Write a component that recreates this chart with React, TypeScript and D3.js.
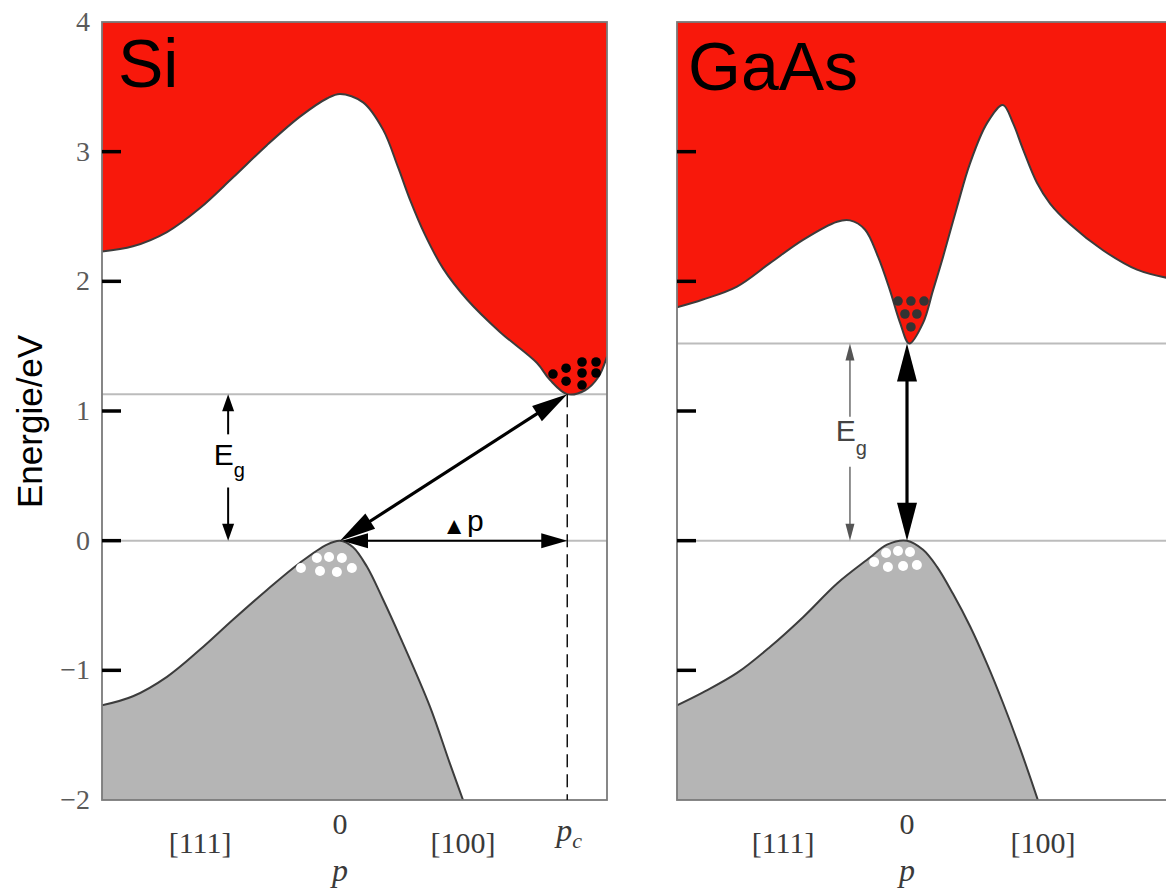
import React, { useEffect, useRef } from 'react';
import * as d3 from 'd3';

type Pt = [number, number];

// momentum p (left panel edge = -1, Gamma = 0) vs. energy in eV
const siConduction: Pt[] = [
  [-1, 2.23], [-0.87, 2.27], [-0.727, 2.38], [-0.588, 2.565], [-0.45, 2.8], [-0.307, 3.05],
  [-0.168, 3.27], [-0.055, 3.41], [0, 3.445], [0.097, 3.38], [0.181, 3.17], [0.244, 2.88],
  [0.294, 2.63], [0.357, 2.36], [0.433, 2.1], [0.534, 1.86], [0.672, 1.61], [0.828, 1.37],
  [0.882, 1.24], [0.955, 1.13], [1.03, 1.16], [1.085, 1.26], [1.122, 1.42],
];
const siValence: Pt[] = [
  [-1, -1.27], [-0.87, -1.2], [-0.727, -1.05], [-0.588, -0.84], [-0.45, -0.61], [-0.307, -0.38],
  [-0.168, -0.17], [-0.055, -0.03], [0, 0], [0.055, -0.05], [0.113, -0.2], [0.18, -0.45],
  [0.252, -0.74], [0.378, -1.28], [0.462, -1.72], [0.517, -2.0], [0.6, -2.44],
];
const gaasConduction: Pt[] = [
  [-1, 1.8], [-0.887, 1.86], [-0.739, 1.96], [-0.596, 2.14], [-0.452, 2.32], [-0.304, 2.46],
  [-0.248, 2.47], [-0.183, 2.4], [-0.126, 2.19], [-0.074, 1.93], [-0.03, 1.68], [0.01, 1.52],
  [0.07, 1.68], [0.113, 1.93], [0.157, 2.19], [0.217, 2.57], [0.274, 2.91], [0.348, 3.22],
  [0.417, 3.36], [0.461, 3.22], [0.504, 3.02], [0.565, 2.76], [0.622, 2.6], [0.709, 2.44],
  [0.852, 2.24], [1.0, 2.09], [1.15, 2.02],
];
const gaasValence: Pt[] = [
  [-1, -1.27], [-0.887, -1.17], [-0.739, -1.02], [-0.596, -0.82], [-0.452, -0.59], [-0.304, -0.33],
  [-0.161, -0.13], [-0.087, -0.03], [0, 0], [0.07, -0.07], [0.13, -0.2], [0.2, -0.41],
  [0.274, -0.66], [0.348, -0.95], [0.417, -1.25], [0.491, -1.6], [0.565, -1.98], [0.65, -2.45],
];

const siElectrons: Pt[] = [
  [0.895, 1.285], [0.95, 1.33], [0.95, 1.23], [1.017, 1.378], [1.076, 1.378],
  [1.017, 1.293], [1.076, 1.293], [1.017, 1.2],
];
const siHoles: Pt[] = [
  [-0.097, -0.134], [-0.046, -0.126], [0.008, -0.134], [-0.164, -0.211], [-0.084, -0.234],
  [-0.013, -0.242], [0.05, -0.211],
];
const gaasElectrons: Pt[] = [
  [-0.039, 1.848], [0.017, 1.848], [0.074, 1.848], [-0.009, 1.748], [0.043, 1.748], [0.017, 1.648],
];
const gaasHoles: Pt[] = [
  [-0.091, -0.095], [-0.039, -0.08], [0.013, -0.087], [-0.143, -0.165], [-0.083, -0.203],
  [-0.017, -0.195], [0.043, -0.188],
];

const energyTicks = [-2, -1, 0, 1, 2, 3, 4];
const innerTicks = [-1, 0, 1, 2, 3];

const siGap = 1.13;
const siPc = 0.955;
const gaasGap = 1.52;

const siAxisLabels = [
  { p: -0.588, text: '[111]' },
  { p: 0, text: '0' },
  { p: 0.517, text: '[100]' },
];
const gaasAxisLabels = [
  { p: -0.539, text: '[111]' },
  { p: 0, text: '0' },
  { p: 0.591, text: '[100]' },
];

const RED = '#f8180b';
const GREY = '#b5b5b5';
const SANS = '"Liberation Sans", Arial, sans-serif';
const SERIF = '"Liberation Serif", "Times New Roman", serif';

type G = d3.Selection<SVGGElement, unknown, null, undefined>;

function arrow(
  g: G, a: Pt, b: Pt,
  o: { w: number; L: number; hw: number; color: string; both: boolean }
) {
  const dx = b[0] - a[0], dy = b[1] - a[1];
  const len = Math.hypot(dx, dy);
  const ux = dx / len, uy = dy / len, nx = -uy, ny = ux;
  const head = (tx: number, ty: number, sx: number, sy: number) => {
    const bx = tx - sx * o.L, by = ty - sy * o.L;
    g.append('polygon')
      .attr('points', `${tx},${ty} ${bx + nx * o.hw},${by + ny * o.hw} ${bx - nx * o.hw},${by - ny * o.hw}`)
      .attr('fill', o.color);
  };
  const s = o.both ? o.L * 0.7 : 0;
  g.append('line')
    .attr('x1', a[0] + ux * s).attr('y1', a[1] + uy * s)
    .attr('x2', b[0] - ux * o.L * 0.7).attr('y2', b[1] - uy * o.L * 0.7)
    .attr('stroke', o.color).attr('stroke-width', o.w);
  head(b[0], b[1], ux, uy);
  if (o.both) head(a[0], a[1], -ux, -uy);
}

export default function App() {
  const svgRef = useRef<SVGSVGElement>(null);

  useEffect(() => {
    if (!svgRef.current) return;
    const svg = d3.select(svgRef.current);
    svg.selectAll('*').remove();
    const defs = svg.append('defs');

    const y = d3.scaleLinear().domain([-2, 4]).range([800, 22]);
    const curve = d3.curveCatmullRom.alpha(0.5);

    const drawPanel = (cfg: {
      id: string; range: [number, number]; domain: [number, number];
      cb: Pt[]; vb: Pt[]; gap: number; electrons: Pt[]; electronColor: string; holes: Pt[];
      labels: { p: number; text: string }[]; title: string; titlePos: Pt;
    }) => {
      const x = d3.scaleLinear().domain(cfg.domain).range(cfg.range);
      const [x0, x1] = cfg.range;
      const g = svg.append('g');

      defs.append('clipPath').attr('id', `clip-${cfg.id}`)
        .append('rect')
        .attr('x', x0).attr('y', y(4))
        .attr('width', x1 - x0).attr('height', y(-2) - y(4));
      const inner = g.append('g').attr('clip-path', `url(#clip-${cfg.id})`);

      const line = d3.line<Pt>().x(d => x(d[0])).y(d => y(d[1])).curve(curve);
      const upper = d3.area<Pt>().x(d => x(d[0])).y0(y(4)).y1(d => y(d[1])).curve(curve);
      const lower = d3.area<Pt>().x(d => x(d[0])).y0(y(-2)).y1(d => y(d[1])).curve(curve);

      // reference levels
      [0, cfg.gap].forEach(e => {
        inner.append('line')
          .attr('x1', x0).attr('x2', x1).attr('y1', y(e)).attr('y2', y(e))
          .attr('stroke', '#bcbcbc').attr('stroke-width', 2);
      });

      inner.append('path').datum(cfg.cb).attr('fill', RED).attr('d', upper);
      inner.append('path').datum(cfg.vb).attr('fill', GREY).attr('d', lower);
      [cfg.cb, cfg.vb].forEach(d => {
        inner.append('path').datum(d)
          .attr('fill', 'none').attr('stroke', '#3c3c3c').attr('stroke-width', 2).attr('d', line);
      });

      inner.selectAll('circle.e').data(cfg.electrons).enter().append('circle')
        .attr('cx', d => x(d[0])).attr('cy', d => y(d[1])).attr('r', 4.8)
        .attr('fill', cfg.electronColor);
      inner.selectAll('circle.h').data(cfg.holes).enter().append('circle')
        .attr('cx', d => x(d[0])).attr('cy', d => y(d[1])).attr('r', 5)
        .attr('fill', '#fff');

      g.append('rect')
        .attr('x', x0).attr('y', y(4)).attr('width', x1 - x0).attr('height', y(-2) - y(4))
        .attr('fill', 'none').attr('stroke', '#7a7a7a').attr('stroke-width', 1.8);

      innerTicks.forEach(t => {
        g.append('line')
          .attr('x1', x0).attr('x2', x0 + 19).attr('y1', y(t)).attr('y2', y(t))
          .attr('stroke', '#000').attr('stroke-width', 3.5);
      });

      cfg.labels.forEach(l => {
        g.append('text')
          .attr('x', x(l.p)).attr('y', l.text === '0' ? 834 : 853)
          .attr('text-anchor', 'middle')
          .attr('font-family', SERIF).attr('font-size', 30).attr('fill', '#3a3a3a')
          .text(l.text);
      });
      g.append('text')
        .attr('x', x(0)).attr('y', 881)
        .attr('text-anchor', 'middle')
        .attr('font-family', SERIF).attr('font-style', 'italic').attr('font-size', 32).attr('fill', '#3a3a3a')
        .text('p');

      g.append('text')
        .attr('x', cfg.titlePos[0]).attr('y', cfg.titlePos[1])
        .attr('font-family', SANS).attr('font-size', 68).attr('fill', '#000')
        .text(cfg.title);

      return { g, x };
    };

    // ---- Si ----
    const si = drawPanel({
      id: 'si', range: [102, 607], domain: [-1, 1.122],
      cb: siConduction, vb: siValence, gap: siGap,
      electrons: siElectrons, electronColor: '#000', holes: siHoles,
      labels: siAxisLabels, title: 'Si', titlePos: [118, 87],
    });
    {
      const { g, x } = si;
      g.append('line')
        .attr('x1', x(siPc)).attr('x2', x(siPc)).attr('y1', y(siGap)).attr('y2', y(-2))
        .attr('stroke', '#111').attr('stroke-width', 1.5).attr('stroke-dasharray', '13,7');

      arrow(g, [x(0), y(0)], [x(siPc), y(siGap)], { w: 3.2, L: 36, hw: 9, color: '#000', both: true });
      arrow(g, [x(0) + 2, y(0)], [x(siPc), y(0)], { w: 2, L: 26, hw: 7.5, color: '#000', both: true });

      // Eg (broken around the label)
      arrow(g, [x(-0.47), y(0.82)], [x(-0.47), y(siGap)], { w: 2, L: 17, hw: 6, color: '#000', both: false });
      arrow(g, [x(-0.47), y(0.41)], [x(-0.47), y(0)], { w: 2, L: 17, hw: 6, color: '#000', both: false });
      const eg = g.append('text').attr('x', x(-0.53)).attr('y', y(0.58))
        .attr('font-family', SANS).attr('font-size', 30).attr('fill', '#000');
      eg.append('tspan').text('E');
      eg.append('tspan').attr('font-size', 20).attr('dy', 12).text('g');

      const dp = g.append('text').attr('x', x(0.43)).attr('y', y(0.05))
        .attr('font-family', SANS).attr('fill', '#000');
      dp.append('tspan').attr('font-size', 24).text('▲');
      dp.append('tspan').attr('font-size', 30).attr('dx', 1).attr('dy', -3).text('p');

      const pc = g.append('text').attr('x', x(siPc) - 11).attr('y', 841)
        .attr('font-family', SERIF).attr('font-style', 'italic').attr('font-size', 32).attr('fill', '#3a3a3a');
      pc.append('tspan').text('p');
      pc.append('tspan').attr('font-size', 22).attr('dy', 7).text('c');
    }

    // ---- GaAs ----
    const ga = drawPanel({
      id: 'gaas', range: [677, 1171.5], domain: [-1, 1.15],
      cb: gaasConduction, vb: gaasValence, gap: gaasGap,
      electrons: gaasElectrons, electronColor: '#333', holes: gaasHoles,
      labels: gaasAxisLabels, title: 'GaAs', titlePos: [688, 90],
    });
    {
      const { g, x } = ga;
      arrow(g, [x(0), y(0)], [x(0), y(gaasGap)], { w: 3.2, L: 38, hw: 10, color: '#000', both: true });
      arrow(g, [x(-0.248), y(0.955)], [x(-0.248), y(gaasGap)], { w: 1.3, L: 17, hw: 4.5, color: '#555', both: false });
      arrow(g, [x(-0.248), y(0.57)], [x(-0.248), y(0)], { w: 1.3, L: 17, hw: 4.5, color: '#555', both: false });
      const eg = g.append('text').attr('x', x(-0.31)).attr('y', y(0.77))
        .attr('font-family', SANS).attr('font-size', 30).attr('fill', '#444');
      eg.append('tspan').text('E');
      eg.append('tspan').attr('font-size', 20).attr('dy', 14).text('g');
    }

    // energy axis labels (left only)
    energyTicks.forEach(t => {
      svg.append('text')
        .attr('x', 90).attr('y', y(t) + 9)
        .attr('text-anchor', 'end')
        .attr('font-family', SERIF).attr('font-size', 28).attr('fill', '#5a5a5a')
        .text(`${t < 0 ? '−' : ''}${Math.abs(t)}`);
    });

    svg.append('text')
      .attr('transform', 'translate(42,508) rotate(-90)')
      .attr('font-family', SANS).attr('font-size', 35).attr('fill', '#000')
      .text('Energie/eV');
  }, []);

  return (
    <svg
      ref={svgRef}
      width={1166}
      height={890}
      style={{ position: 'absolute', left: 0, top: 0, background: '#fff' }}
    />
  );
}
